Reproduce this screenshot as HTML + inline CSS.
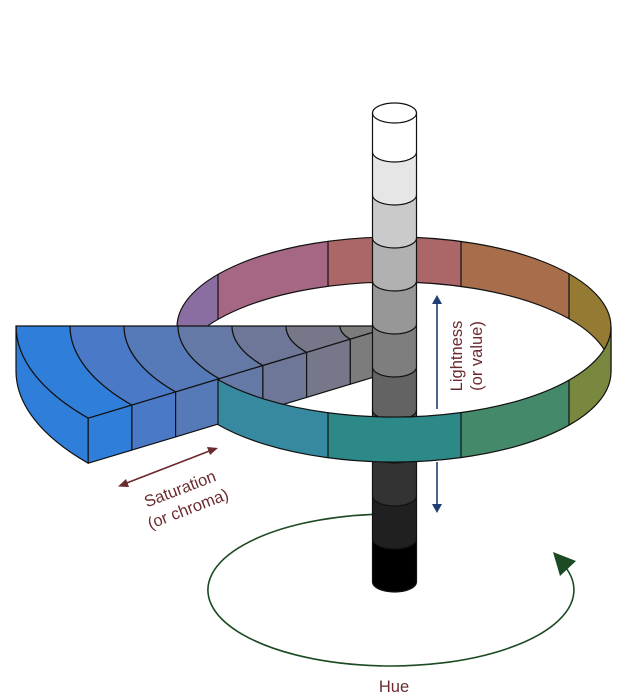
<!DOCTYPE html>
<html><head><meta charset="utf-8"><style>
html,body{margin:0;padding:0;background:#fff;}
svg{display:block;}
text{font-family:"Liberation Sans",sans-serif;font-size:16.5px;fill:#6b2a2e;}
</style></head><body>
<svg width="625" height="697" viewBox="0 0 625 697" xmlns="http://www.w3.org/2000/svg">
<defs>
<clipPath id="backc"><path d="M177,327 A217,90 0 0 1 611,327 L611,372 A217,90 0 0 0 177,372 Z"/></clipPath>
<clipPath id="frontc"><path d="M218,379.6 A217,90 0 0 0 611,327 L611,372 A217,90 0 0 1 218,424.6 Z"/></clipPath>
</defs>
<g clip-path="url(#backc)">
<rect x="170" y="230" width="48" height="150" fill="#8a6ea1"/>
<rect x="218" y="230" width="110" height="150" fill="#a56783"/>
<rect x="328" y="230" width="133" height="150" fill="#ad6668"/>
<rect x="461" y="230" width="108" height="150" fill="#a86e4c"/>
<rect x="569" y="230" width="50" height="150" fill="#947a32"/>
</g>
<path d="M177,327 A217,90 0 0 1 611,327 L611,372 A217,90 0 0 0 177,372 Z" fill="none" stroke="#111" stroke-width="1.2"/>
<g stroke="#111" stroke-width="1.2">
<line x1="218" y1="274.4" x2="218" y2="319.4"/>
<line x1="328" y1="241.3" x2="328" y2="286.3"/>
<line x1="461" y1="241.2" x2="461" y2="286.2"/>
<line x1="569" y1="273.8" x2="569" y2="318.8"/>
</g>
<g stroke="#111" stroke-width="1.2" stroke-linejoin="round">
<path d="M16,326 A378,156.9 0 0 0 88.2,418.2 L131.9,405.1 A324,134.5 0 0 1 70,326 Z" fill="#2f7ed9"/>
<path d="M70,326 A324,134.5 0 0 0 131.9,405.1 L175.6,391.9 A270,112 0 0 1 124,326 Z" fill="#4979c7"/>
<path d="M124,326 A270,112 0 0 0 175.6,391.9 L219.3,378.7 A216,89.6 0 0 1 178,326 Z" fill="#5679b7"/>
<path d="M178,326 A216,89.6 0 0 0 219.3,378.7 L262.9,365.5 A162,67.2 0 0 1 232,326 Z" fill="#6579a7"/>
<path d="M232,326 A162,67.2 0 0 0 262.9,365.5 L306.6,352.4 A108,44.8 0 0 1 286,326 Z" fill="#6e7797"/>
<path d="M286,326 A108,44.8 0 0 0 306.6,352.4 L350.3,339.2 A54,22.4 0 0 1 340,326 Z" fill="#767889"/>
<path d="M340,326 A54,22.4 0 0 0 350.3,339.2 L394,326 Z" fill="#7c7c7c"/>
<path d="M16,326 A378,156.9 0 0 0 88.2,418.2 L88.2,463.2 A378,156.9 0 0 1 16,371 Z" fill="#2f7ed9"/>
<path d="M88.2,418.2 L131.9,405.1 L131.9,450.1 L88.2,463.2 Z" fill="#2f7ed9"/>
<path d="M131.9,405.1 L175.6,391.9 L175.6,436.9 L131.9,450.1 Z" fill="#4979c7"/>
<path d="M175.6,391.9 L219.3,378.7 L219.3,423.7 L175.6,436.9 Z" fill="#5679b7"/>
<path d="M219.3,378.7 L262.9,365.5 L262.9,410.5 L219.3,423.7 Z" fill="#6579a7"/>
<path d="M262.9,365.5 L306.6,352.4 L306.6,397.4 L262.9,410.5 Z" fill="#6e7797"/>
<path d="M306.6,352.4 L350.3,339.2 L350.3,384.2 L306.6,397.4 Z" fill="#767889"/>
<path d="M350.3,339.2 L394,326 L394,371 L350.3,384.2 Z" fill="#7c7c7c"/>
</g>
<g stroke="#111" stroke-width="1.2">
<path d="M372.5,539 L416.5,539 L416.5,582 A22,10 0 0 1 372.5,582 Z" fill="#000"/>
<path d="M372.5,496 L416.5,496 L416.5,539 A22,10 0 0 1 372.5,539 Z" fill="#202020"/>
<path d="M372.5,453 L416.5,453 L416.5,496 A22,10 0 0 1 372.5,496 Z" fill="#333"/>
<path d="M372.5,410 L416.5,410 L416.5,453 A22,10 0 0 1 372.5,453 Z" fill="#4a4a4a"/>
<path d="M372.5,367 L416.5,367 L416.5,410 A22,10 0 0 1 372.5,410 Z" fill="#636363"/>
<path d="M372.5,324 L416.5,324 L416.5,367 A22,10 0 0 1 372.5,367 Z" fill="#7e7e7e"/>
<path d="M372.5,281 L416.5,281 L416.5,324 A22,10 0 0 1 372.5,324 Z" fill="#979797"/>
<path d="M372.5,238 L416.5,238 L416.5,281 A22,10 0 0 1 372.5,281 Z" fill="#b1b1b1"/>
<path d="M372.5,195 L416.5,195 L416.5,238 A22,10 0 0 1 372.5,238 Z" fill="#cacaca"/>
<path d="M372.5,152 L416.5,152 L416.5,195 A22,10 0 0 1 372.5,195 Z" fill="#e6e6e6"/>
<path d="M372.5,113 L416.5,113 L416.5,152 A22,10 0 0 1 372.5,152 Z" fill="#fff"/>
<ellipse cx="394.5" cy="113" rx="22" ry="10" fill="#fff"/>
</g>
<g clip-path="url(#frontc)">
<rect x="210" y="320" width="118" height="160" fill="#3789a0"/>
<rect x="328" y="320" width="133" height="160" fill="#2c8987"/>
<rect x="461" y="320" width="108" height="160" fill="#45896b"/>
<rect x="569" y="320" width="50" height="160" fill="#78893f"/>
</g>
<path d="M218,379.6 A217,90 0 0 0 611,327 L611,372 A217,90 0 0 1 218,424.6 Z" fill="none" stroke="#111" stroke-width="1.2"/>
<g stroke="#111" stroke-width="1.2">
<line x1="328" y1="412.7" x2="328" y2="457.7"/>
<line x1="461" y1="412.8" x2="461" y2="457.8"/>
<line x1="569" y1="380.2" x2="569" y2="425.2"/>
</g>
<g stroke="#1f3f73" stroke-width="1.6" fill="#1f3f73">
<line x1="437" y1="302" x2="437" y2="409"/>
<polygon points="437,295 432,304 442,304" stroke="none"/>
<line x1="437" y1="462" x2="437" y2="505"/>
<polygon points="437,513 432,504 442,504" stroke="none"/>
</g>
<text transform="translate(462,356) rotate(-90)" text-anchor="middle">Lightness</text>
<text transform="translate(482,356) rotate(-90)" text-anchor="middle">(or value)</text>
<g stroke="#6b2a2e" stroke-width="1.6" fill="#6b2a2e">
<line x1="124" y1="484" x2="212" y2="450"/>
<polygon points="118,486.5 126,479 129,487" stroke="none"/>
<polygon points="218,448 207,447 210,455" stroke="none"/>
</g>
<text transform="translate(182,494) rotate(-21)" text-anchor="middle">Saturation</text>
<text transform="translate(190,514) rotate(-21)" text-anchor="middle">(or chroma)</text>
<path d="M372,514.4 A183,76 0 1 0 562,563" fill="none" stroke="#1c4a22" stroke-width="1.6"/>
<polygon points="553,552 576,561 560,576" fill="#1c4a22"/>
<text x="394" y="692" text-anchor="middle">Hue</text>
</svg>
</body></html>
